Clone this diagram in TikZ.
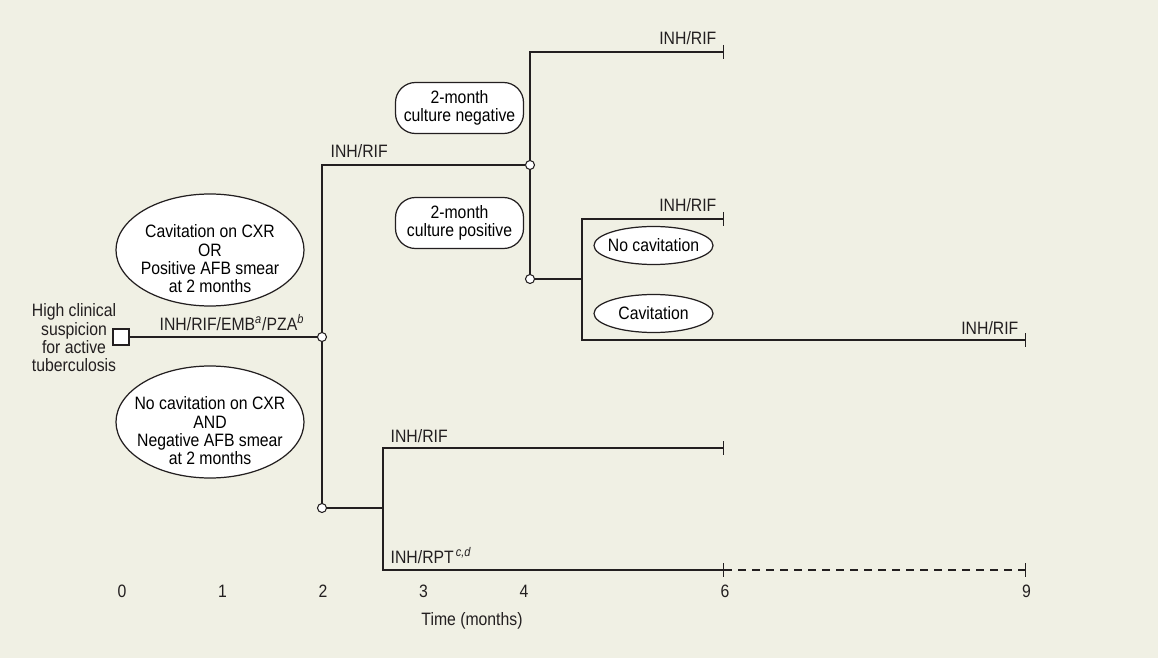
\documentclass[tikz,border=0pt]{standalone}
\usepackage{fontspec}
\setmainfont{Liberation Sans}[FakeStretch=0.88]
\usetikzlibrary{arrows.meta,shapes.geometric}
\definecolor{paper}{RGB}{240,240,228}
\definecolor{ink}{RGB}{35,31,32}
\newcommand\figfont{\fontsize{10.2}{10.4}\selectfont}
\tikzset{
  endbar/.style={-{Bar[width=2.8mm]}},
  junction/.style={circle,draw=ink,fill=white,line width=0.6pt,inner sep=0pt,minimum size=1.8mm},
  entry/.style={rectangle,draw=ink,fill=white,line width=0.6pt,inner sep=0pt,minimum size=3.2mm},
  oval/.style={ellipse,draw=ink,fill=white,line width=0.7pt,inner sep=0pt},
  bigoval/.style={oval,minimum width=37.6mm,minimum height=22.4mm},
  smalloval/.style={oval,minimum width=23.8mm,minimum height=7.6mm},
  pill/.style={rectangle,rounded corners=4mm,draw=ink,fill=white,line width=0.7pt,
    inner sep=0pt,minimum width=25.6mm,minimum height=10.2mm,align=center},
  inside/.style={align=center,inner sep=0pt,yshift=#1},
  inside/.default=0mm,
  drug/.style={inner sep=0pt,text=ink},
  axis/.style={inner sep=0pt,anchor=base,text=ink},
}

\begin{document}
\begin{tikzpicture}[x=0.2mm,y=-0.2mm,font=\figfont,line width=0.8pt,draw=ink]
  \fill[paper] (0,0) rectangle (1158,658);

  % start and branching points
  \node[entry] (src) at (121,337) {};
  \node[inner sep=0pt,align=center,text=ink] (who) at (74,338) {High clinical\\suspicion\\for active\\tuberculosis};
  \node[junction] (j0) at (322,337) {};
  \node[junction] (j1) at (530,165) {};
  \node[junction] (j2) at (530,279) {};
  \node[junction] (j3) at (322,508) {};
  \coordinate (b1) at (582,279);
  \coordinate (b2) at (383,508);
  \coordinate (e1) at (724,52);
  \coordinate (e2) at (724,219);
  \coordinate (e3) at (1026,340);
  \coordinate (e4) at (724,448);
  \coordinate (e5) at (724,570);
  \coordinate (e6) at (1026,570);

  % decision ovals
  \node[bigoval,label={[inside=-1.8mm]center:Cavitation on CXR\\OR\\Positive AFB smear\\at 2 months}] (cav) at (210,250) {};
  \node[bigoval,label={[inside=-1.8mm]center:No cavitation on CXR\\AND\\Negative AFB smear\\at 2 months}] (nocav) at (210,422) {};
  \node[pill] (neg) at (459.5,108) {2-month\\culture negative};
  \node[pill] (pos) at (459.5,223) {2-month\\culture positive};
  \node[smalloval,label={[inside]center:No cavitation}] (nc) at (653.5,245.5) {};
  \node[smalloval,label={[inside]center:Cavitation}] (cv) at (653.5,313.5) {};

  % branches
  \draw (src) -- (j0);
  \draw (j0) |- (j1);
  \draw (j0) -- (j3);
  \draw[endbar] (j1) |- (e1);
  \draw (j1) -- (j2);
  \draw (j2) -- (b1);
  \draw[endbar] (b1) |- (e2);
  \draw[endbar] (b1) |- (e3);
  \draw (j3) -- (b2);
  \draw[endbar] (b2) |- (e4);
  \draw[endbar] (b2) |- (e5);
  \draw[endbar,dash pattern=on 1.6mm off 1.2mm] (e5) -- (e6);

  % regimens
  \node[drug,anchor=base west] (r0) at (159,330) {INH/RIF/EMB\textsuperscript{\textit{a}}/PZA\textsuperscript{\textit{b}}};
  \node[drug,anchor=base west] (r1) at (330,158) {INH/RIF};
  \node[drug,anchor=base east] (r2) at (717,45) {INH/RIF};
  \node[drug,anchor=base east] (r3) at (717,212) {INH/RIF};
  \node[drug,anchor=base east] (r4) at (1019,334) {INH/RIF};
  \node[drug,anchor=base west] (r5) at (390,442) {INH/RIF};
  \node[drug,anchor=base west] (r6) at (390,563) {INH/RPT\textsuperscript{\,\textit{c,d}}};

  % time axis
  \foreach \m in {0,1,2,3,4,6,9}
    \node[axis] (t\m) at ({122+100.5*\m},597) {\m};
  \node[axis] (time) at (472,625) {Time (months)};
\end{tikzpicture}
\end{document}
